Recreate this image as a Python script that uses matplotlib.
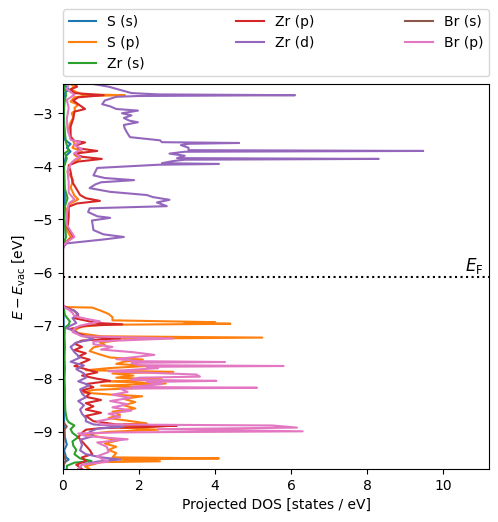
import matplotlib
matplotlib.use("Agg")
import matplotlib.pyplot as plt

E_FERMI = -6.09

# S (s)
e_s_s = [-9.7, -9.58, -9.52, -9.48, -9.35, -9.24, -9.1, -8.8, -8.0, -7.0, -6.66, -6.62,
         -5.5, -5.0, -4.6, -4.0, -3.8, -3.72, -3.65, -3.58, -3.5, -3.0, -2.62, -2.55, -2.45]
s_s = [0.02, 0.03, 0.15, 0.08, 0.03, 0.1, 0.05, 0.03, 0.02, 0.02, 0.01, 0.0,
       0.0, 0.02, 0.05, 0.02, 0.08, 0.2, 0.1, 0.2, 0.05, 0.02, 0.05, 0.15, 0.02]

# S (p)
e_s_p = [-9.7, -9.65, -9.61, -9.57, -9.555, -9.52, -9.5, -9.48, -9.4, -9.34, -9.28, -9.22,
         -9.16, -9.1, -9.05, -9.0, -8.96, -8.92, -8.895, -8.88, -8.865, -8.84, -8.8, -8.74,
         -8.68, -8.62, -8.56, -8.5, -8.44, -8.38, -8.33, -8.3, -8.26, -8.21, -8.17, -8.13,
         -8.09, -8.05, -8.01, -7.98, -7.94, -7.9, -7.87, -7.84, -7.8, -7.76, -7.72, -7.68,
         -7.64, -7.6, -7.55, -7.48, -7.41, -7.36, -7.32, -7.28, -7.245, -7.225, -7.2, -7.14,
         -7.08, -7.02, -6.985, -6.965, -6.95, -6.935, -6.9, -6.84, -6.78, -6.72, -6.66,
         -6.65, -6.62,
         -5.55, -5.45, -5.33, -5.2, -5.0, -4.8, -4.7, -4.62, -4.55, -4.4, -4.26, -4.1,
         -4.0, -3.92, -3.86, -3.78, -3.72, -3.65, -3.58, -3.5, -3.35, -3.2, -3.08, -3.0,
         -2.95, -2.9, -2.84, -2.78, -2.7, -2.675, -2.66, -2.645, -2.6, -2.55, -2.5, -2.45]
s_p = [0.7, 0.58, 0.8, 1.0, 2.55, 1.5, 4.1, 1.3, 1.4, 1.2, 1.4, 1.1,
       1.45, 1.0, 0.6, 1.2, 2.5, 1.5, 1.8, 3.0, 1.6, 2.2, 1.8, 1.2,
       1.5, 1.3, 1.9, 1.6, 1.9, 1.6, 2.08, 1.3, 0.5, 0.8, 2.2, 1.0,
       2.7, 1.2, 2.6, 1.4, 1.85, 1.3, 2.9, 0.6, 1.2, 2.2, 1.4, 1.6,
       2.1, 1.24, 1.0, 0.7, 0.8, 1.1, 0.97, 1.4, 1.5, 5.24, 1.0, 0.4,
       0.3, 0.5, 1.0, 4.4, 3.2, 4.0, 1.3, 1.3, 1.2, 1.0, 0.77,
       0.05, 0.0,
       0.0, 0.05, 0.2, 0.1, 0.12, 0.1, 0.2, 0.4, 0.3, 0.2, 0.27, 0.12,
       0.15, 0.25, 0.45, 0.3, 0.5, 0.25, 0.3, 0.26, 0.14, 0.18, 0.27, 0.23,
       0.32, 0.3, 0.4, 0.2, 0.3, 0.6, 1.63, 0.5, 0.35, 0.2, 0.3, 0.2]

# Zr (s)
e_zr_s = [-9.7, -9.64, -9.58, -9.55, -9.5, -9.42, -9.34, -9.26, -9.18, -9.1, -9.02, -8.95,
          -8.88, -8.82, -8.76, -8.6, -8.4, -8.2, -8.0, -7.8, -7.6, -7.4, -7.2, -7.04,
          -6.98, -6.92, -6.8, -6.66, -6.62,
          -5.5, -5.45, -5.33, -5.0, -4.75, -4.6, -4.4, -4.0, -3.85, -3.75, -3.7, -3.55,
          -3.2, -2.8, -2.66, -2.45]
zr_s = [0.1, 0.1, 0.3, 0.75, 0.45, 0.3, 0.35, 0.27, 0.25, 0.4, 0.25, 0.2,
        0.3, 0.15, 0.1, 0.06, 0.05, 0.05, 0.04, 0.05, 0.04, 0.05, 0.04, 0.05,
        0.15, 0.18, 0.05, 0.02, 0.0,
        0.0, 0.02, 0.08, 0.04, 0.05, 0.12, 0.04, 0.03, 0.1, 0.05, 0.15, 0.08,
        0.02, 0.03, 0.08, 0.02]

# Zr (p)
e_zr_p = [-9.7, -9.62, -9.55, -9.48, -9.42, -9.34, -9.26, -9.18, -9.1, -9.02, -8.96, -8.93,
          -8.905, -8.88, -8.86, -8.8, -8.7, -8.64, -8.58, -8.52, -8.46, -8.4, -8.34, -8.28,
          -8.22, -8.16, -8.1, -8.04, -8.0, -7.94, -7.88, -7.82, -7.76, -7.7, -7.64, -7.58,
          -7.52, -7.46, -7.4, -7.34, -7.28, -7.24, -7.2, -7.12, -7.06, -7.0, -6.975, -6.95,
          -6.86, -6.8, -6.72, -6.66, -6.62,
          -5.5, -5.42, -5.33, -5.15, -4.95, -4.76, -4.7, -4.65, -4.6, -4.54, -4.42, -4.3,
          -4.1, -3.98, -3.91, -3.86, -3.82, -3.76, -3.71, -3.66, -3.6, -3.55, -3.52, -3.45,
          -3.25, -3.1, -2.97, -2.92, -2.83, -2.76, -2.7, -2.66, -2.62, -2.55, -2.5, -2.45]
zr_p = [0.5, 0.35, 0.6, 0.5, 0.77, 0.7, 0.6, 0.5, 0.4, 0.5, 0.6, 1.0,
        2.4, 3.0, 1.4, 0.8, 0.6, 1.0, 0.6, 0.8, 0.6, 1.0, 0.6, 0.7,
        0.5, 0.8, 0.6, 1.24, 0.9, 0.5, 0.9, 0.6, 0.3, 0.5, 0.7, 0.4,
        0.6, 0.3, 0.5, 0.3, 0.5, 1.5, 0.6, 0.3, 0.2, 0.6, 1.56, 0.9,
        0.3, 0.4, 0.3, 0.1, 0.0,
        0.0, 0.1, 0.27, 0.12, 0.15, 0.15, 0.36, 0.97, 0.6, 0.45, 0.35, 0.25,
        0.2, 0.15, 0.4, 1.02, 0.5, 0.3, 0.9, 0.4, 0.36, 0.58, 0.3, 0.2,
        0.2, 0.27, 0.3, 0.58, 0.4, 0.27, 0.4, 1.07, 0.3, 0.2, 0.37, 0.3]

# Zr (d)
e_zr_d = [-9.7, -9.62, -9.56, -9.52, -9.48, -9.42, -9.35, -9.25, -9.15, -9.08, -9.0, -8.94,
          -8.9, -8.86, -8.8, -8.74, -8.66, -8.58, -8.5, -8.42, -8.35, -8.28, -8.2, -8.12,
          -8.05, -7.98, -7.9, -7.82, -7.75, -7.68, -7.6, -7.5, -7.4, -7.32, -7.25, -7.18,
          -7.1, -7.05, -7.0, -6.95, -6.86, -6.78, -6.72, -6.66, -6.62,
          -5.55, -5.5, -5.45, -5.38, -5.33, -5.28, -5.2, -5.1, -5.02, -4.97, -4.94, -4.86,
          -4.79, -4.75, -4.68, -4.63, -4.58, -4.54, -4.48, -4.41, -4.34, -4.3, -4.26, -4.22,
          -4.17, -4.1, -4.03, -4.0, -3.97, -3.955, -3.94, -3.9, -3.875, -3.86, -3.845, -3.8,
          -3.76, -3.725, -3.71, -3.695, -3.65, -3.6, -3.575, -3.56, -3.545, -3.51, -3.45, -3.36,
          -3.28, -3.22, -3.17, -3.14, -3.09, -3.04, -3.0, -2.95, -2.92, -2.87, -2.83, -2.76,
          -2.69, -2.675, -2.66, -2.645, -2.62, -2.56, -2.5, -2.45]
zr_d = [0.4, 0.5, 0.9, 1.5, 1.0, 0.6, 0.45, 0.5, 0.45, 0.8, 0.7, 0.9,
        1.6, 0.8, 0.6, 0.6, 0.5, 0.45, 0.55, 0.4, 0.6, 0.5, 0.45, 0.7,
        0.4, 0.6, 0.55, 0.35, 0.55, 0.2, 0.45, 0.3, 0.2, 0.35, 0.8, 0.45,
        0.3, 0.1, 0.2, 0.35, 0.25, 0.4, 0.3, 0.05, 0.0,
        0.0, 0.03, 0.1, 1.03, 1.6, 1.06, 0.8, 0.78, 0.76, 1.24, 0.9, 0.66,
        0.7, 2.73, 2.47, 2.8, 2.37, 2.2, 1.24, 0.7, 0.85, 1.0, 1.87, 1.1,
        0.8, 0.85, 0.9, 1.7, 2.5, 4.1, 2.6, 2.9, 3.2, 8.3, 3.0, 3.2,
        2.8, 3.2, 9.47, 3.3, 3.3, 3.1, 3.3, 4.63, 2.6, 2.55, 1.76, 1.68,
        1.62, 1.6, 1.97, 1.75, 1.6, 1.8, 1.55, 1.97, 1.4, 1.24, 1.03, 1.1,
        1.4, 2.0, 6.1, 2.5, 1.8, 1.5, 1.2, 0.8]

# Br (s)
e_br_s = [-9.7, -9.62, -9.55, -9.5, -9.4, -8.96, -8.9, -8.86, -8.8, -6.62,
          -5.5, -2.45]
br_s = [0.0, 0.02, 0.07, 0.05, 0.0, 0.03, 0.1, 0.05, 0.0, 0.0,
        0.0, 0.0]

# Br (p)
e_br_p = [-9.7, -9.62, -9.56, -9.52, -9.46, -9.38, -9.28, -9.2, -9.14, -9.08, -9.03, -9.01,
          -8.99, -8.95, -8.92, -8.88, -8.86, -8.8, -8.72, -8.66, -8.6, -8.54, -8.48, -8.42,
          -8.36, -8.3, -8.25, -8.185, -8.17, -8.155, -8.1, -8.06, -8.04, -8.02, -7.98, -7.96,
          -7.92, -7.86, -7.8, -7.775, -7.76, -7.745, -7.7, -7.685, -7.67, -7.63, -7.55, -7.5,
          -7.45, -7.4, -7.35, -7.3, -7.24, -7.2, -7.12, -7.05, -7.0, -6.92, -6.87, -6.82,
          -6.76, -6.7, -6.66, -6.62,
          -5.5, -5.42, -5.33, -5.1, -4.9, -4.7, -4.62, -4.5, -4.3, -4.1, -3.95, -3.88,
          -3.82, -3.75, -3.68, -3.6, -3.55, -3.5, -3.3, -3.1, -2.9, -2.75, -2.65, -2.55,
          -2.45]
br_p = [0.4, 0.5, 1.2, 1.05, 0.9, 1.2, 1.15, 0.9, 1.7, 0.6, 0.4, 1.5,
        6.3, 2.5, 6.15, 5.5, 1.0, 0.9, 1.5, 1.2, 1.8, 1.3, 1.7, 1.24,
        1.77, 1.3, 1.7, 1.5, 5.1, 1.8, 2.6, 2.2, 4.03, 1.8, 2.0, 3.6,
        3.5, 1.2, 2.5, 2.2, 5.8, 2.0, 1.8, 4.26, 2.0, 1.4, 2.4, 1.84,
        1.0, 1.3, 0.8, 0.8, 2.9, 0.5, 0.25, 0.3, 0.45, 0.97, 0.6, 0.3,
        0.25, 0.15, 0.05, 0.0,
        0.0, 0.1, 0.3, 0.1, 0.1, 0.15, 0.3, 0.15, 0.15, 0.12, 0.2, 0.3,
        0.45, 0.3, 0.5, 0.3, 0.45, 0.2, 0.12, 0.1, 0.15, 0.1, 0.3, 0.1,
        0.15]

series = [
    ("S (s)", e_s_s, s_s),
    ("S (p)", e_s_p, s_p),
    ("Zr (s)", e_zr_s, zr_s),
    ("Zr (p)", e_zr_p, zr_p),
    ("Zr (d)", e_zr_d, zr_d),
    ("Br (s)", e_br_s, br_s),
    ("Br (p)", e_br_p, br_p),
]

fig = plt.figure(figsize=(4.98, 5.22), dpi=100)
ax = fig.add_axes([0.1265, 0.1015, 0.8555, 0.7375])

for label, energies, dos in series:
    ax.plot(dos, energies, label=label, linewidth=1.5)

ax.axhline(E_FERMI, color="black", linestyle=":", linewidth=1.5)
ax.text(11.05, E_FERMI + 0.02, r"$E_\mathrm{F}$", ha="right", va="bottom", fontsize=12)

ax.set_xlim(0, 11.2)
ax.set_ylim(-9.7, -2.45)
ax.set_xlabel("Projected DOS [states / eV]")
ax.set_ylabel(r"$E - E_\mathrm{vac}$ [eV]")
ax.legend(bbox_to_anchor=(0, 1.02, 1, 0.2), loc="lower left", mode="expand",
          ncol=3, borderaxespad=0)

fig.savefig("out.png", dpi=100)
